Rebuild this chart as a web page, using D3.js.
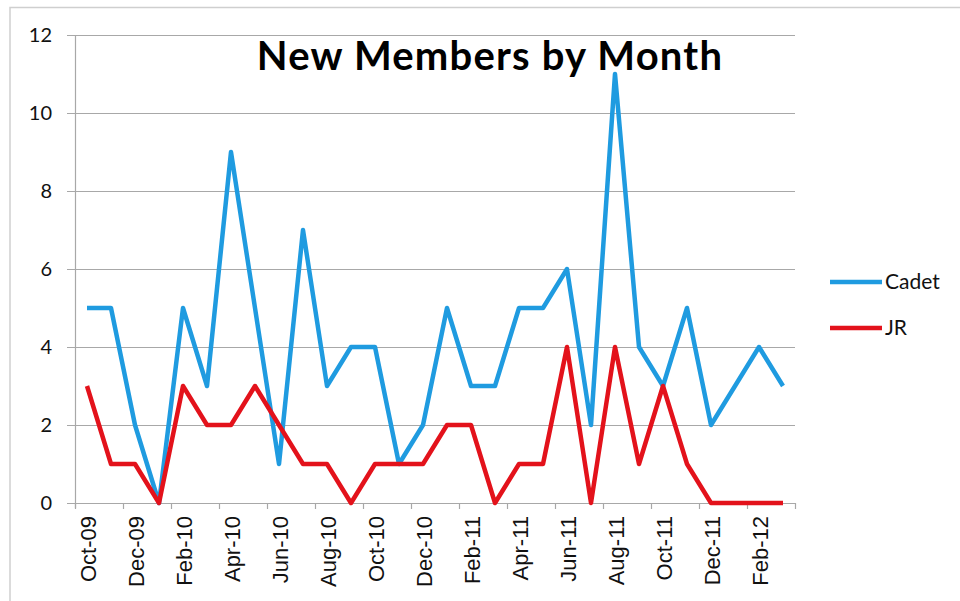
<!DOCTYPE html>
<html>
<head>
<meta charset="utf-8">
<script src="https://cdn.jsdelivr.net/npm/d3@7"></script>
<style>
  body { margin: 0; background: #fff; }
  svg { display: block; }
</style>
</head>
<body>
<div id="chart"></div>
<script>
const months = ['Oct-09', 'Nov-09', 'Dec-09', 'Jan-10', 'Feb-10', 'Mar-10', 'Apr-10', 'May-10', 'Jun-10', 'Jul-10',
  'Aug-10', 'Sep-10', 'Oct-10', 'Nov-10', 'Dec-10', 'Jan-11', 'Feb-11', 'Mar-11', 'Apr-11', 'May-11',
  'Jun-11', 'Jul-11', 'Aug-11', 'Sep-11', 'Oct-11', 'Nov-11', 'Dec-11', 'Jan-12', 'Feb-12', 'Mar-12']
const cadet = [5, 5, 2, 0, 5, 3, 9, 5, 1, 7, 3, 4, 4, 1, 2, 5, 3, 3, 5, 5, 6, 2, 11, 4, 3, 5, 2, 3, 4, 3]
const jr = [3, 1, 1, 0, 3, 2, 2, 3, 2, 1, 1, 0, 1, 1, 1, 2, 2, 0, 1, 1, 4, 0, 4, 1, 3, 1, 0, 0, 0, 0]
const yTicks = [0, 2, 4, 6, 8, 10, 12]
const series = [
  { name: 'Cadet', values: cadet, color: '#1f9be0' },
  { name: 'JR', values: jr, color: '#e3121b' },
]

const width = 960
const height = 601
const margin = { top: 35, right: 165, bottom: 98, left: 75 }

const svg = d3
  .select('#chart')
  .append('svg')
  .attr('width', width)
  .attr('height', height)

// faint scanned frame
svg.append('path')
  .attr('d', `M10,${height + 5}V7.5H${width + 5}`)
  .attr('fill', 'none')
  .attr('stroke', '#cfcfcf')
  .attr('stroke-width', 1.5)

const x = d3.scaleBand()
  .domain(months)
  .range([margin.left, width - margin.right])
  .padding(0)

const y = d3.scaleLinear()
  .domain([0, 12])
  .range([height - margin.bottom, margin.top])

const cx = (m) => x(m) + x.bandwidth() / 2

// gridlines
svg.append('g')
  .selectAll('line')
  .data(yTicks)
  .join('line')
  .attr('x1', margin.left - 8)
  .attr('x2', width - margin.right)
  .attr('y1', (d) => Math.round(y(d)) + 0.5)
  .attr('y2', (d) => Math.round(y(d)) + 0.5)
  .attr('stroke', '#a8a8a8')
  .attr('stroke-width', 1.2)

// y axis line
svg.append('line')
  .attr('x1', margin.left + 0.5)
  .attr('x2', margin.left + 0.5)
  .attr('y1', y(12))
  .attr('y2', y(0) + 5)
  .attr('stroke', '#a8a8a8')
  .attr('stroke-width', 1.2)

// y labels
svg.append('g')
  .selectAll('text')
  .data(yTicks)
  .join('text')
  .attr('x', 52)
  .attr('y', (d) => y(d))
  .attr('dy', '0.35em')
  .attr('text-anchor', 'end')
  .attr('font-family', 'Lato, sans-serif')
  .attr('font-size', 20)
  .attr('fill', '#111')
  .text((d) => d)

// x ticks every second month + end
const tickPos = months.filter((m, i) => i % 2 === 0).map((m) => x(m)).concat([width - margin.right])
svg.append('g')
  .selectAll('line')
  .data(tickPos)
  .join('line')
  .attr('x1', (d) => Math.round(d) + 0.5)
  .attr('x2', (d) => Math.round(d) + 0.5)
  .attr('y1', y(0))
  .attr('y2', y(0) + 6)
  .attr('stroke', '#a8a8a8')
  .attr('stroke-width', 1.2)

// x labels (rotated)
svg.append('g')
  .selectAll('text')
  .data(months.filter((m, i) => i % 2 === 0))
  .join('text')
  .attr('transform', (d) => `translate(${cx(d) + 1},${y(0) + 13}) rotate(-90)`)
  .attr('dy', '0.35em')
  .attr('text-anchor', 'end')
  .attr('font-family', '"Liberation Sans", Arial, sans-serif')
  .attr('font-size', 22)
  .attr('fill', '#111')
  .text((d) => d)

// lines
const line = d3.line()
  .x((d, i) => cx(months[i]))
  .y((d) => y(d))

svg.append('g')
  .selectAll('path')
  .data(series)
  .join('path')
  .attr('d', (d) => line(d.values))
  .attr('fill', 'none')
  .attr('stroke', (d) => d.color)
  .attr('stroke-width', 4.5)
  .attr('stroke-linejoin', 'round')

// title
svg.append('text')
  .attr('x', 490)
  .attr('y', 70)
  .attr('text-anchor', 'middle')
  .attr('font-family', 'Lato, sans-serif')
  .attr('font-weight', 'bold')
  .attr('font-size', 40)
  .attr('letter-spacing', 1.2)
  .attr('fill', '#000')
  .text('New Members by Month')

// legend
const legend = svg.append('g')
  .selectAll('g')
  .data(series)
  .join('g')
  .attr('transform', (d, i) => `translate(830,${282 + i * 46})`)

legend.append('line')
  .attr('x1', 0)
  .attr('x2', 52)
  .attr('stroke', (d) => d.color)
  .attr('stroke-width', 4.5)

legend.append('text')
  .attr('x', 55)
  .attr('dy', '0.35em')
  .attr('font-family', 'Lato, sans-serif')
  .attr('font-size', 21)
  .attr('fill', '#111')
  .text((d) => d.name)
</script>
</body>
</html>
